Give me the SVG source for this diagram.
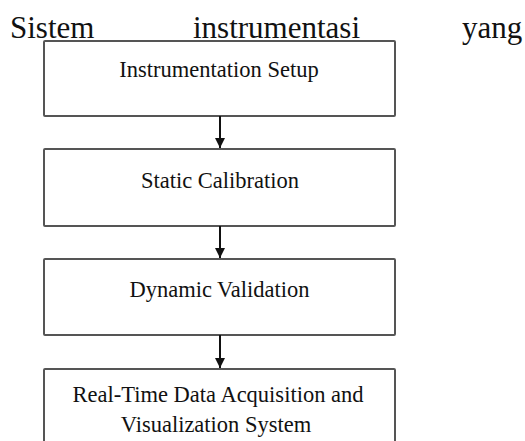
<svg xmlns="http://www.w3.org/2000/svg" width="525" height="441" viewBox="0 0 525 441">
  <style>
    .title { font-family: "Liberation Serif", "Times New Roman", serif; font-size: 31px; fill: #111; }
    .box { fill: #fff; stroke: #555; stroke-width: 2; }
    .lbl { font-family: "Liberation Serif", "Times New Roman", serif; font-size: 22.5px; fill: #111; text-anchor: middle; }
    .conn { stroke: #111; stroke-width: 2; fill: none; }
  </style>
  <defs>
    <marker id="arr" markerWidth="10" markerHeight="10" refX="10" refY="5" orient="auto" markerUnits="userSpaceOnUse">
      <path d="M0,0 L10,5 L0,10 Z" fill="#111"/>
    </marker>
  </defs>
  <rect width="525" height="441" fill="#fff"/>
  <g id="heading">
    <text class="title" x="10" y="38">Sistem</text>
    <text class="title" x="193" y="38">instrumentasi</text>
    <text class="title" x="462" y="38">yang</text>
  </g>
  <g id="node1">
    <rect class="box" x="44" y="41" width="351" height="75" rx="1"/>
    <text class="lbl" x="219" y="77">Instrumentation Setup</text>
  </g>
  <g id="node2">
    <rect class="box" x="44" y="149" width="351" height="77" rx="1"/>
    <text class="lbl" x="220" y="188">Static Calibration</text>
  </g>
  <g id="node3">
    <rect class="box" x="44" y="259" width="351" height="76" rx="1"/>
    <text class="lbl" x="219.5" y="297">Dynamic Validation</text>
  </g>
  <g id="node4">
    <rect class="box" x="44" y="369" width="351" height="90" rx="1"/>
    <text class="lbl" x="218" y="402">Real-Time Data Acquisition and</text>
    <text class="lbl" x="216" y="432">Visualization System</text>
  </g>
  <g id="connectors">
    <line class="conn" x1="220" y1="116" x2="220" y2="148" marker-end="url(#arr)"/>
    <line class="conn" x1="220" y1="226" x2="220" y2="258" marker-end="url(#arr)"/>
    <line class="conn" x1="220" y1="335" x2="220" y2="368" marker-end="url(#arr)"/>
  </g>
</svg>
